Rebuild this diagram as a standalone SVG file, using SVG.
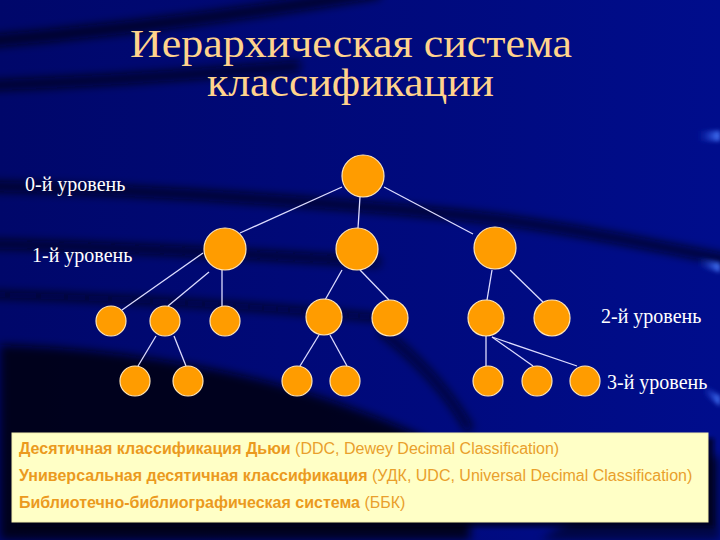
<svg xmlns="http://www.w3.org/2000/svg" width="720" height="540" viewBox="0 0 720 540">
<defs>
<linearGradient id="bg" x1="0" y1="0" x2="1" y2="0">
<stop offset="0" stop-color="#00076a"/>
<stop offset="0.6" stop-color="#000a7e"/>
<stop offset="1" stop-color="#000d8c"/>
</linearGradient>
<linearGradient id="hl" x1="1" y1="0" x2="0" y2="0">
<stop offset="0" stop-color="#4a7dff"/>
<stop offset="1" stop-color="#1030c0" stop-opacity="0"/>
</linearGradient>
<filter id="blur" x="-20%" y="-50%" width="140%" height="200%"><feGaussianBlur stdDeviation="5"/></filter>
<filter id="blur2" x="-20%" y="-50%" width="140%" height="200%"><feGaussianBlur stdDeviation="2"/></filter>
<style>
.node{fill:#ff9c00;stroke:#ffe6b8;stroke-width:1.2}
.edge{stroke:#dcdcff;stroke-width:1.3;fill:none}
.lvl{font-family:"Liberation Serif","Times New Roman",serif;font-size:20px;fill:#ffffff}
.title{font-family:"Liberation Serif","Times New Roman",serif;font-size:41px;fill:#ffd38c}
.box{font-family:"Liberation Sans",Arial,sans-serif;font-size:16px;fill:#e9a02c}
.b{font-weight:bold;fill:#eb9a1e}
</style>
</defs>
<g id="background">
<rect width="720" height="540" fill="url(#bg)"/>
<g filter="url(#blur)" fill="none" stroke="#000010" stroke-opacity="0.75">
<path d="M-20,42 C120,30 260,12 380,-8" stroke-width="12"/>
<path d="M-20,86 C80,82 180,76 300,66" stroke-width="10"/>
<path d="M-20,186 C150,190 300,200 460,215 C560,225 650,245 740,262" stroke-width="10"/>
<path d="M-20,244 C100,246 250,254 380,262" stroke-width="9"/>
<path d="M-20,294 C120,298 260,306 380,318" stroke-width="7"/>
<path d="M380,330 C420,360 450,395 470,430" stroke-width="8"/>
</g>
<path d="M0,345 C120,348 240,370 330,400 C400,425 440,440 470,470 L470,540 L0,540 Z" fill="#00000c" fill-opacity="0.85" filter="url(#blur)"/>
<path d="M540,540 C600,500 660,470 720,455 L720,540 Z" fill="#00000c" fill-opacity="0.5" filter="url(#blur)"/>
<path d="M697,131 L720,131 L720,141 L697,141 Z" fill="url(#hl)" filter="url(#blur2)"/>
<path d="M697,257 L720,263 L720,272 L697,266 Z" fill="url(#hl)" filter="url(#blur2)"/>
<path d="M702,384 L720,396 L720,406 L704,394 Z" fill="url(#hl)" filter="url(#blur2)"/>
</g>
<g id="title">
<text class="title" x="130" y="57" textLength="442" lengthAdjust="spacingAndGlyphs">Иерархическая система</text>
<text class="title" x="207" y="96" textLength="287" lengthAdjust="spacingAndGlyphs">классификации</text>
</g>
<g id="level-labels">
<text class="lvl" x="25" y="191">0-й уровень</text>
<text class="lvl" x="32" y="262">1-й уровень</text>
<text class="lvl" x="601" y="323">2-й уровень</text>
<text class="lvl" x="607" y="389">3-й уровень</text>
</g>
<g id="connectors">
<line class="edge" x1="342" y1="187" x2="240" y2="233"/>
<line class="edge" x1="360" y1="197" x2="358" y2="228"/>
<line class="edge" x1="384" y1="187" x2="473" y2="234"/>
<line class="edge" x1="203" y1="253" x2="122" y2="310"/>
<line class="edge" x1="209" y1="272" x2="168" y2="306"/>
<line class="edge" x1="222" y1="270" x2="222" y2="306"/>
<line class="edge" x1="342" y1="270" x2="325" y2="300"/>
<line class="edge" x1="360" y1="270" x2="389" y2="300"/>
<line class="edge" x1="492" y1="270" x2="487" y2="300"/>
<line class="edge" x1="510" y1="270" x2="546" y2="305"/>
<line class="edge" x1="156" y1="336" x2="138" y2="366"/>
<line class="edge" x1="174" y1="336" x2="186" y2="366"/>
<line class="edge" x1="319" y1="335" x2="300" y2="366"/>
<line class="edge" x1="330" y1="335" x2="347" y2="366"/>
<line class="edge" x1="486" y1="336" x2="486" y2="366"/>
<line class="edge" x1="492" y1="337" x2="533" y2="366"/>
<line class="edge" x1="492" y1="337" x2="577" y2="366"/>
</g>
<g id="n0"><circle class="node" cx="363" cy="176" r="21"/></g>
<g id="n1a"><circle class="node" cx="225" cy="249" r="21"/></g>
<g id="n1b"><circle class="node" cx="357" cy="249" r="21"/></g>
<g id="n1c"><circle class="node" cx="495" cy="248" r="21"/></g>
<g id="n2a"><circle class="node" cx="111" cy="321" r="15"/></g>
<g id="n2b"><circle class="node" cx="165" cy="321" r="15"/></g>
<g id="n2c"><circle class="node" cx="225" cy="321" r="15"/></g>
<g id="n2d"><circle class="node" cx="324" cy="317" r="18"/></g>
<g id="n2e"><circle class="node" cx="390" cy="318" r="18"/></g>
<g id="n2f"><circle class="node" cx="486" cy="318" r="18"/></g>
<g id="n2g"><circle class="node" cx="552" cy="318" r="18"/></g>
<g id="n3a"><circle class="node" cx="135" cy="381" r="15"/></g>
<g id="n3b"><circle class="node" cx="188" cy="381" r="15"/></g>
<g id="n3c"><circle class="node" cx="297" cy="381" r="15"/></g>
<g id="n3d"><circle class="node" cx="345" cy="381" r="15"/></g>
<g id="n3e"><circle class="node" cx="488" cy="381" r="15"/></g>
<g id="n3f"><circle class="node" cx="537" cy="381" r="15"/></g>
<g id="n3g"><circle class="node" cx="585" cy="381" r="15"/></g>
<g id="legend">
<rect x="17" y="438" width="697" height="89" fill="#000010" fill-opacity="0.7" filter="url(#blur2)"/>
<rect x="12" y="433" width="696" height="89" fill="#ffffc6" stroke="#f4f0b0" stroke-width="1"/>
<text class="box" x="19" y="454"><tspan class="b">Десятичная классификация Дьюи</tspan> (DDC, Dewey Decimal Classification)</text>
<text class="box" x="19" y="481"><tspan class="b">Универсальная десятичная классификация</tspan> (УДК, UDC, Universal Decimal Classification)</text>
<text class="box" x="19" y="508"><tspan class="b">Библиотечно-библиографическая система</tspan> (ББК)</text>
</g>
</svg>
